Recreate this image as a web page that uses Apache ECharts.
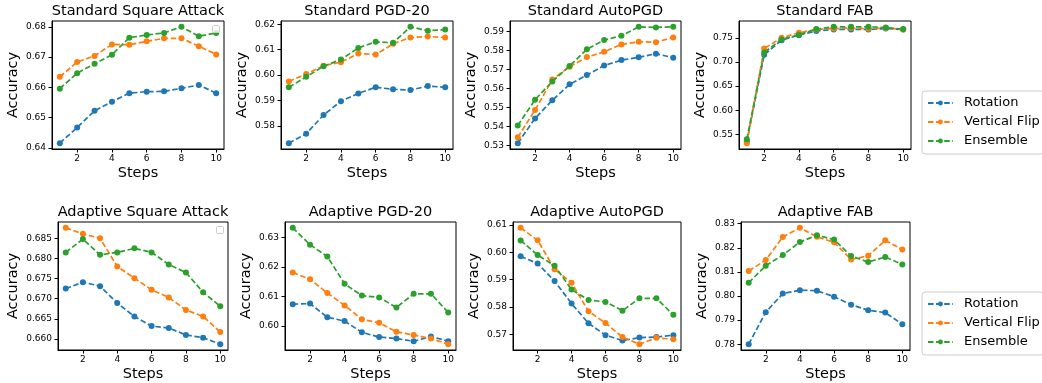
<!DOCTYPE html>
<html>
<head>
<meta charset="utf-8">
<script src="https://cdn.jsdelivr.net/npm/echarts@6/dist/echarts.min.js"></script>
<style>
html,body{margin:0;padding:0;background:#fff;}
#chart{width:1042px;height:383px;}
</style>
</head>
<body>
<div id="chart"></div>
<script>
// ---------- data ----------
const steps = [1, 2, 3, 4, 5, 6, 7, 8, 9, 10];
const seriesNames = ['Rotation', 'Vertical Flip', 'Ensemble'];
const titles = ['Standard Square Attack', 'Standard PGD-20', 'Standard AutoPGD', 'Standard FAB',
                'Adaptive Square Attack', 'Adaptive PGD-20', 'Adaptive AutoPGD', 'Adaptive FAB'];
const xTicks = [2, 4, 6, 8, 10];

const stdSquareRot = [0.6416,0.6468,0.6523,0.6553,0.6581,0.6586,0.6587,0.6597,0.6608,0.6581];
const stdSquareVF  = [0.6635,0.6684,0.6704,0.6742,0.6741,0.6752,0.6762,0.6762,0.6736,0.6709];
const stdSquareEns = [0.6596,0.6647,0.6678,0.6708,0.6764,0.6773,0.6780,0.6800,0.6769,0.6780];

const stdPgdRot = [0.5732,0.5769,0.5843,0.5897,0.5928,0.5952,0.5944,0.5941,0.5957,0.5952];
const stdPgdVF  = [0.5975,0.6004,0.6037,0.6051,0.6085,0.6081,0.6123,0.6148,0.6152,0.6148];
const stdPgdEns = [0.5952,0.5993,0.6035,0.6061,0.6107,0.6131,0.6127,0.6190,0.6175,0.6179];

const stdApgdRot = [0.5311,0.5442,0.5538,0.5622,0.5671,0.5721,0.5750,0.5765,0.5784,0.5763];
const stdApgdVF  = [0.5342,0.5486,0.5648,0.5715,0.5766,0.5794,0.5833,0.5847,0.5845,0.5870];
const stdApgdEns = [0.5404,0.5541,0.5637,0.5719,0.5807,0.5856,0.5879,0.5926,0.5923,0.5926];

const stdFabRot = [0.5350,0.7153,0.7458,0.7562,0.7650,0.7680,0.7680,0.7680,0.7700,0.7680];
const stdFabVF  = [0.5313,0.7285,0.7507,0.7611,0.7680,0.7700,0.7708,0.7694,0.7710,0.7680];
const stdFabEns = [0.5396,0.7202,0.7472,0.7569,0.7687,0.7735,0.7735,0.7735,0.7720,0.7687];

const advSquareRot = [0.6725,0.6741,0.6731,0.6689,0.6656,0.6632,0.6627,0.6610,0.6603,0.6587];
const advSquareVF  = [0.6876,0.6861,0.6850,0.6780,0.6751,0.6722,0.6703,0.6672,0.6656,0.6617];
const advSquareEns = [0.6815,0.6848,0.6809,0.6815,0.6825,0.6815,0.6785,0.6765,0.6716,0.6681];

const advPgdRot = [0.6074,0.6076,0.6030,0.6017,0.5979,0.5963,0.5958,0.5949,0.5965,0.5949];
const advPgdVF  = [0.6181,0.6158,0.6112,0.6070,0.6023,0.6011,0.5981,0.5970,0.5958,0.5939];
const advPgdEns = [0.6332,0.6275,0.6235,0.6143,0.6103,0.6097,0.6063,0.6109,0.6109,0.6046];

const advApgdRot = [0.5985,0.5959,0.5895,0.5813,0.5741,0.5698,0.5678,0.5689,0.5691,0.5698];
const advApgdVF  = [0.6089,0.6044,0.5938,0.5889,0.5785,0.5742,0.5691,0.5665,0.5688,0.5683];
const advApgdEns = [0.6043,0.5990,0.5951,0.5864,0.5826,0.5819,0.5787,0.5832,0.5832,0.5772];

const advFabRot = [0.7800,0.7933,0.8010,0.8024,0.8022,0.7997,0.7964,0.7941,0.7931,0.7883];
const advFabVF  = [0.8104,0.8149,0.8245,0.8283,0.8246,0.8223,0.8152,0.8167,0.8231,0.8193];
const advFabEns = [0.8055,0.8126,0.8170,0.8224,0.8252,0.8234,0.8166,0.8141,0.8162,0.8131];

const yTicks1 = [0.64, 0.65, 0.66, 0.67, 0.68];
const yTicks2 = [0.58, 0.59, 0.60, 0.61, 0.62];
const yTicks3 = [0.53, 0.54, 0.55, 0.56, 0.57, 0.58, 0.59];
const yTicks4 = [0.55, 0.60, 0.65, 0.70, 0.75];
const yTicks5 = [0.660, 0.665, 0.670, 0.675, 0.680, 0.685];
const yTicks6 = [0.60, 0.61, 0.62, 0.63];
const yTicks7 = [0.57, 0.58, 0.59, 0.60, 0.61];
const yTicks8 = [0.78, 0.79, 0.80, 0.81, 0.82, 0.83];
const yDecimals = [2, 2, 2, 2, 3, 2, 2, 2];

const panelData = [
  [stdSquareRot, stdSquareVF, stdSquareEns],
  [stdPgdRot, stdPgdVF, stdPgdEns],
  [stdApgdRot, stdApgdVF, stdApgdEns],
  [stdFabRot, stdFabVF, stdFabEns],
  [advSquareRot, advSquareVF, advSquareEns],
  [advPgdRot, advPgdVF, advPgdEns],
  [advApgdRot, advApgdVF, advApgdEns],
  [advFabRot, advFabVF, advFabEns]
];
const panelTicks = [yTicks1, yTicks2, yTicks3, yTicks4, yTicks5, yTicks6, yTicks7, yTicks8];

// ---------- layout ----------
const colors = ['#1f77b4', '#ff7f0e', '#2ca02c'];
const FONT = 'DejaVu Sans';
const gridPos = [
  {left: 52,  top: 21, width: 172, height: 128},
  {left: 281, top: 21, width: 172, height: 128},
  {left: 510, top: 21, width: 171, height: 128},
  {left: 739, top: 21, width: 172, height: 128},
  {left: 58,  top: 222, width: 170, height: 128},
  {left: 285, top: 222, width: 171, height: 128},
  {left: 513, top: 222, width: 168, height: 128},
  {left: 741, top: 222, width: 169, height: 128}
];
const yNameGap = [31, 31, 31, 31, 37, 31, 31, 31];

const grids = [], xAxes = [], yAxes = [], series = [], titleArr = [];
panelData.forEach((sets, i) => {
  const g = gridPos[i];
  grids.push({left: g.left, top: g.top, width: g.width, height: g.height,
    show: true, borderColor: '#000', borderWidth: 1, backgroundColor: 'transparent', containLabel: false});
  let lo = Infinity, hi = -Infinity;
  sets.forEach(a => a.forEach(v => { lo = Math.min(lo, v); hi = Math.max(hi, v); }));
  const pad = (hi - lo) * 0.05;
  xAxes.push({
    type: 'value', gridIndex: i, min: 0.55, max: 10.45,
    axisLine: {show: true, lineStyle: {color: '#000', width: 1}},
    axisTick: {show: true, length: 3.5, customValues: xTicks, lineStyle: {color: '#000'}},
    axisLabel: {show: true, customValues: xTicks, margin: 5, fontSize: 9, color: '#000', fontFamily: FONT},
    splitLine: {show: false},
    name: 'Steps', nameLocation: 'middle', nameGap: 17,
    nameTextStyle: {fontSize: 14.5, color: '#000', fontFamily: FONT}
  });
  const dec = yDecimals[i];
  yAxes.push({
    type: 'value', gridIndex: i, min: lo - pad, max: hi + pad,
    axisLine: {show: true, lineStyle: {color: '#000', width: 1}},
    axisTick: {show: true, length: 3.5, customValues: panelTicks[i], lineStyle: {color: '#000'}},
    axisLabel: {show: true, customValues: panelTicks[i], margin: 6, fontSize: 9, color: '#000', fontFamily: FONT,
      formatter: v => Number(v).toFixed(dec)},
    splitLine: {show: false},
    name: 'Accuracy', nameLocation: 'middle', nameGap: yNameGap[i],
    nameTextStyle: {fontSize: 14.5, color: '#000', fontFamily: FONT}
  });
  sets.forEach((arr, k) => {
    series.push({
      type: 'line', name: seriesNames[k], xAxisIndex: i, yAxisIndex: i,
      data: steps.map((s, j) => [s, arr[j]]),
      symbol: 'circle', symbolSize: 6, showSymbol: true,
      itemStyle: {color: colors[k]},
      lineStyle: {color: colors[k], width: 1.7, type: [5.5, 2.6]},
      emphasis: {disabled: true}, silent: true, z: 2 + k
    });
  });
  titleArr.push({
    text: titles[i], left: g.left + g.width / 2, top: i < 4 ? 4 : 205, textAlign: 'center', padding: 0,
    textStyle: {fontSize: 14.5, fontWeight: 'normal', color: '#000', fontFamily: FONT}
  });
});

const legendCommon = {
  orient: 'vertical', left: 922, data: seriesNames,
  itemWidth: 25, itemHeight: 6, itemGap: 5,
  textStyle: {fontSize: 13, color: '#000', fontFamily: FONT, lineHeight: 14, padding: [0, 0, 0, 6]},
  borderColor: '#cccccc', borderWidth: 1, borderRadius: 3, backgroundColor: '#fff',
  padding: [5, 4, 6, 5], selectedMode: false
};

const option = {
  animation: false,
  backgroundColor: '#fff',
  title: titleArr,
  grid: grids, xAxis: xAxes, yAxis: yAxes, series: series,
  legend: [Object.assign({top: 91}, legendCommon), Object.assign({top: 292}, legendCommon)],
  graphic: [
    {type: 'rect', shape: {x: 212.5, y: 25.5, width: 7, height: 7, r: 1}, style: {fill: 'rgba(255,255,255,0.8)', stroke: '#cccccc', lineWidth: 1}, z: 10},
    {type: 'rect', shape: {x: 216.5, y: 226.5, width: 7, height: 7, r: 1}, style: {fill: 'rgba(255,255,255,0.8)', stroke: '#cccccc', lineWidth: 1}, z: 10}
  ]
};
const chart = echarts.init(document.getElementById('chart'), null, {renderer: 'canvas'});
chart.setOption(option);
</script>
</body>
</html>
